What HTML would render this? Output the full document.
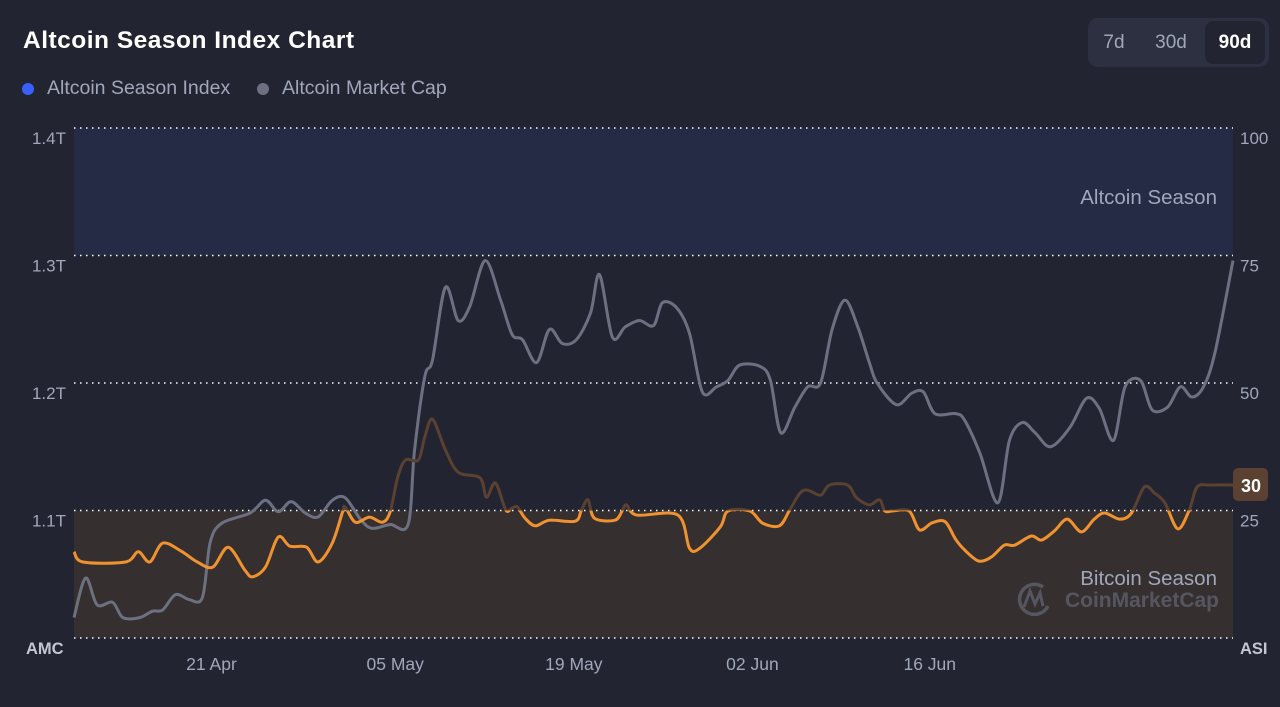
<!DOCTYPE html>
<html><head><meta charset="utf-8">
<style>
html,body{margin:0;padding:0;background:#222531;width:1280px;height:707px;overflow:hidden;font-family:"Liberation Sans",sans-serif;}
#title{position:absolute;left:23px;top:27px;font-size:24.5px;font-weight:bold;color:#fff;letter-spacing:0.5px}
.leg{position:absolute;top:77px;font-size:19.5px;color:#a1a7bb;}
.dot{position:absolute;top:83px;width:12px;height:12px;border-radius:50%}
#btns{position:absolute;left:1088px;top:18px;width:181px;height:49px;background:#2d3040;border-radius:10px}
.btn{position:absolute;top:3px;height:43px;line-height:43px;font-size:19px;color:#a1a7bb;text-align:center}
</style></head><body>
<div id="title">Altcoin Season Index Chart</div>
<div class="dot" style="left:22px;background:#3861fb"></div>
<div class="leg" style="left:47px">Altcoin Season Index</div>
<div class="dot" style="left:257px;background:#6c7080"></div>
<div class="leg" style="left:282px">Altcoin Market Cap</div>
<div id="btns">
 <div class="btn" style="left:6px;width:40px">7d</div>
 <div class="btn" style="left:52px;width:62px">30d</div>
 <div class="btn" style="left:117px;width:60px;background:#222531;border-radius:8px;color:#fff;font-weight:bold">90d</div>
</div>
<svg id="chart" width="1280" height="707" style="position:absolute;left:0;top:0"></svg>
<script>
// time in days since start of range (10 Apr)
const amcDays=[0,0.9,1.8,3.0,3.8,5.1,6.1,6.9,7.9,9.0,10.0,10.6,11.5,13.7,14.9,15.9,16.9,18.0,19.0,20.1,21.1,22.3,23.2,24.6,26.0,26.5,27.3,27.9,28.9,29.9,30.8,32.0,33.2,34.1,34.9,36.0,37.0,38.0,39.1,40.2,40.9,41.9,42.9,44.0,45.1,45.8,46.9,47.9,48.9,50.0,50.9,51.8,53.4,54.2,55.0,56.1,57.1,58.1,59.0,60.0,61.0,61.9,62.5,64.0,65.2,66.1,67.0,68.6,69.3,70.5,71.9,72.8,73.8,74.8,76.0,77.5,78.8,79.8,80.9,81.8,83.0,83.9,85.1,86.1,87.0,87.9,88.8,90.2];
// altcoin market cap in billions USD
const amcValues=[1016,1047,1026,1028,1016,1016,1021,1022,1034,1030,1032,1075,1090,1098,1108,1099,1107,1098,1095,1108,1110,1093,1086,1089,1089,1147,1205,1218,1275,1249,1260,1296,1265,1238,1234,1216,1242,1231,1234,1255,1285,1236,1244,1249,1245,1263,1259,1239,1193,1197,1202,1214,1213,1202,1161,1181,1197,1200,1242,1265,1244,1216,1200,1183,1192,1193,1176,1176,1171,1145,1106,1155,1169,1161,1150,1165,1188,1180,1155,1197,1202,1179,1181,1197,1189,1197,1224,1296];
const asiDays=[0,0.7,4.0,5.0,5.9,6.9,8.3,9.6,10.8,12.0,13.3,13.9,14.9,15.9,16.8,18.1,19.0,20.1,20.9,21.1,21.9,23.0,24.0,24.6,25.2,25.8,26.8,27.3,27.9,28.9,29.9,31.6,32.1,32.8,33.6,34.1,34.5,35.1,35.9,37.0,39.0,39.5,40.0,40.5,42.1,42.7,43.0,43.8,47.0,47.9,48.7,50.3,50.9,52.6,53.6,54.9,55.7,56.5,57.1,58.1,58.8,60.2,60.9,61.9,62.7,63.1,63.7,65.0,65.8,66.8,67.8,68.6,69.3,70.4,71.4,72.4,73.2,74.5,75.3,76.3,77.3,78.4,79.4,80.2,81.4,82.3,83.3,84.1,84.9,85.9,86.8,87.4,88.4,90.2];
const asiValues=[16.9,14.9,14.9,16.9,14.9,18.6,17.1,14.9,13.9,17.8,13.3,12.0,13.9,19.8,18.0,17.8,14.9,18.6,24.7,25.7,22.7,23.7,22.7,24.7,31.6,34.9,34.9,39.4,42.9,36.9,32.5,31.4,27.6,30.4,25.1,25.5,25.7,23.5,22.0,23.1,22.9,25.1,27.1,23.5,23.1,25.1,26.1,24.1,24.1,17.6,17.6,21.8,24.9,24.9,22.5,22.0,25.1,28.4,29.0,28.0,30.0,30.0,27.5,26.1,27.1,24.9,24.9,24.9,21.2,22.6,22.8,19.4,17.3,15.1,15.9,18.2,18.2,20.0,19.2,21.0,23.3,20.8,23.3,24.5,23.3,24.5,29.6,28.4,26.5,21.4,25.1,29.6,30.0,30.0];
const amcTicks=[1000,1100,1200,1300,1400];
const amcTickLabels=["","1.1T","1.2T","1.3T","1.4T"];
const asiTicks=[25,50,75,100];
const dateTickDays=[10.7,25.0,38.9,52.8,66.6];
const dateTickLabels=["21 Apr","05 May","19 May","02 Jun","16 Jun"];
const lastAsiLabel="30";

const NS="http://www.w3.org/2000/svg";
const svg=document.getElementById('chart');
const X0=74,X1=1233,Y0=638,Y1=128,DMAX=90.2;
const xS=d=>X0+d/DMAX*(X1-X0);
const yAmc=v=>Y0-(v-1000)/400*(Y0-Y1);
const yAsi=v=>Y0-v/100*(Y0-Y1);
function mk(tag,attrs,parent){const e=document.createElementNS(NS,tag);for(const k in attrs)e.setAttribute(k,attrs[k]);(parent||svg).appendChild(e);return e;}
function smooth(pts){let d=`M${pts[0][0]},${pts[0][1]}`;for(let i=0;i<pts.length-1;i++){const p0=pts[Math.max(0,i-1)],p1=pts[i],p2=pts[i+1],p3=pts[Math.min(pts.length-1,i+2)];const t=0.16;d+=` C${p1[0]+(p2[0]-p0[0])*t},${p1[1]+(p2[1]-p0[1])*t} ${p2[0]-(p3[0]-p1[0])*t},${p2[1]-(p3[1]-p1[1])*t} ${p2[0]},${p2[1]}`;}return d;}

const defs=mk('defs',{});
const c1=mk('clipPath',{id:'below'},defs);mk('rect',{x:0,y:yAsi(25),width:1280,height:300},c1);
const c2=mk('clipPath',{id:'above'},defs);mk('rect',{x:0,y:0,width:1280,height:yAsi(25)},c2);

let e;
e=mk('rect',{x:X0,y:yAsi(100),width:X1-X0,height:yAsi(75)-yAsi(100),fill:'#252a45'});

e=mk('rect',{x:X0,y:yAsi(25),width:X1-X0,height:yAsi(0)-yAsi(25),fill:'#362f30'});

e=mk('text',{x:1217,y:204,fill:'#a1a7bb','font-size':20.5,'text-anchor':'end'});e.textContent='Altcoin Season';

e=mk('text',{x:1217,y:585,fill:'#a1a7bb','font-size':20.5,'text-anchor':'end'});e.textContent='Bitcoin Season';

// watermark
const wm=mk('g',{opacity:0.6});

mk('path',{d:'M1048,606 A15,15 0 1 1 1043,587',fill:'none',stroke:'#6c7080','stroke-width':3.5},wm);
mk('path',{d:'M1024,607 L1030,591 L1035,604 L1040,593 L1043,606',fill:'none',stroke:'#6c7080','stroke-width':3},wm);
e=mk('text',{x:1219,y:607,fill:'#6c7080','font-size':21,'font-weight':'bold','text-anchor':'end'},wm);e.textContent='CoinMarketCap';

amcTicks.forEach((v,i)=>{const y=yAmc(v);
 e=mk('line',{x1:X0,x2:X1,y1:y,y2:y,stroke:'#fff','stroke-width':1.5,'stroke-dasharray':'1.5 4.5'});
 
 if(amcTickLabels[i]){e=mk('text',{x:66,y:y+16,fill:'#a1a7bb','font-size':17,'text-anchor':'end'});e.textContent=amcTickLabels[i];
 }
});
asiTicks.forEach(v=>{e=mk('text',{x:1240,y:yAsi(v)+16,fill:'#a1a7bb','font-size':17});e.textContent=v;
 });
e=mk('text',{x:26,y:654,fill:'#c3c7d3','font-size':16.5,'font-weight':'bold'});e.textContent='AMC';

e=mk('text',{x:1240,y:654,fill:'#c3c7d3','font-size':16.5,'font-weight':'bold'});e.textContent='ASI';

dateTickDays.forEach((d,i)=>{e=mk('text',{x:xS(d),y:670,fill:'#a1a7bb','font-size':17.5,'text-anchor':'middle'});e.textContent=dateTickLabels[i];
 });

const amcPts=amcDays.map((d,i)=>[xS(d),yAmc(amcValues[i])]);
e=mk('path',{d:smooth(amcPts),fill:'none',stroke:'#6c7080','stroke-width':3,'stroke-linejoin':'round'});

const asiPts=asiDays.map((d,i)=>[xS(d),yAsi(asiValues[i])]);
const asiD=smooth(asiPts);
e=mk('path',{d:asiD,fill:'none',stroke:'#5a4131','stroke-width':3,'clip-path':'url(#above)'});

e=mk('path',{d:asiD,fill:'none',stroke:'#f0922f','stroke-width':3,'clip-path':'url(#below)'});

const ly=yAsi(asiValues[asiValues.length-1]);
e=mk('rect',{x:1233,y:ly-17,width:35,height:33,rx:5,fill:'#5a4131'});

e=mk('text',{x:1251,y:ly+7,fill:'#fff','font-size':18,'font-weight':'bold','text-anchor':'middle'});e.textContent=lastAsiLabel;

</script>
</body></html>
